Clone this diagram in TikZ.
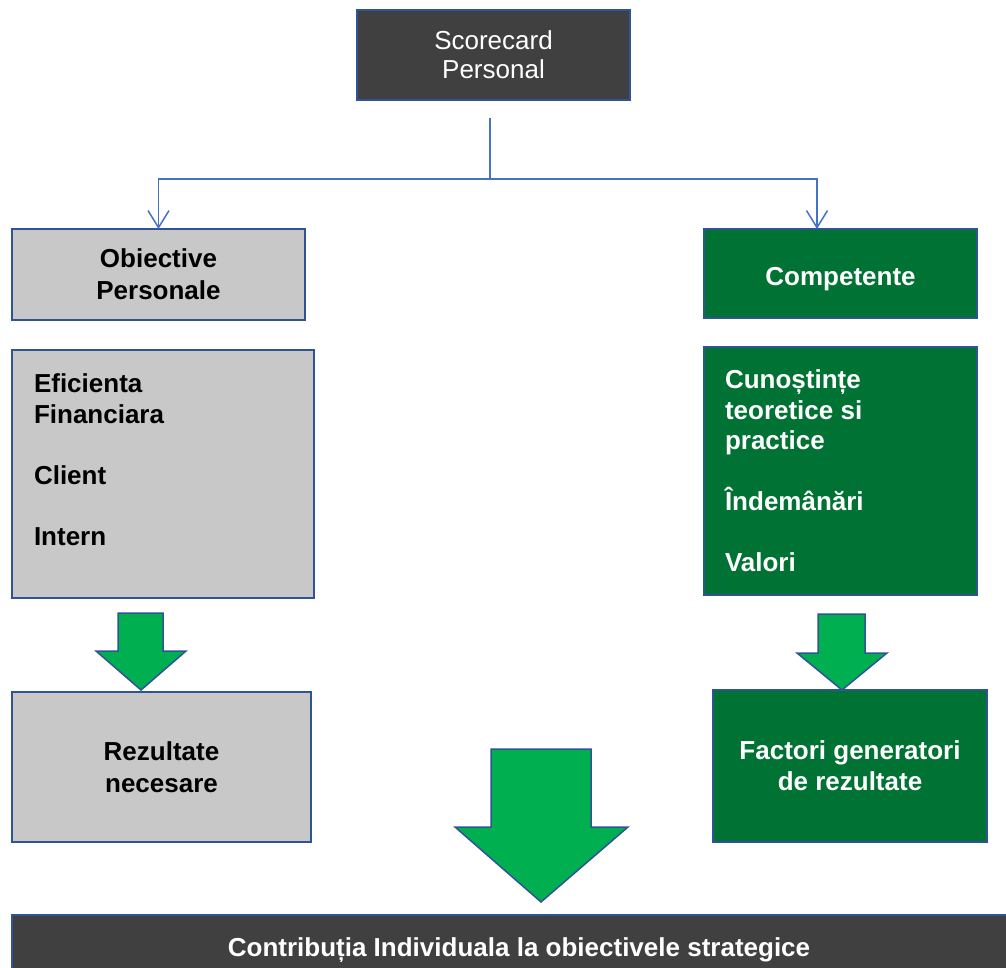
\documentclass[tikz,border=0pt]{standalone}
\usepackage{fontspec}
\setmainfont{Liberation Sans}
\usetikzlibrary{arrows.meta}
\definecolor{darkbox}{RGB}{64,64,64}
\definecolor{greybox}{RGB}{200,200,200}
\definecolor{greenbox}{RGB}{0,114,51}
\definecolor{greenarrow}{RGB}{0,176,80}
\definecolor{edgeblue}{RGB}{47,84,150}
\definecolor{connblue}{RGB}{68,114,196}
\tikzset{
  box/.style={draw=edgeblue, line width=1.5pt, anchor=north west, inner sep=0pt, outer sep=0pt},
  greytext/.style={font=\bfseries\fontsize{26}{32}\selectfont, text=black},
  whitetext/.style={font=\bfseries\fontsize{26}{31}\selectfont, text=white},
  conn/.style={draw=connblue, line width=1.5pt},
  tip/.style={-{Straight Barb[length=17pt,width=21pt,line width=1.5pt]}},
  blockarrow/.style={fill=greenarrow, draw=edgeblue, line width=1.5pt, line join=miter}
}
\begin{document}
\begin{tikzpicture}[x=1pt,y=-1pt]
\useasboundingbox (0,0) rectangle (1006,968);
% top box
\node[box, fill=darkbox, minimum width=273pt, minimum height=90pt, text=white, align=center,
  font=\fontsize{26}{29}\selectfont] (top) at (357,10) {Scorecard\\Personal};
% left column
\node[box, fill=greybox, minimum width=293pt, minimum height=91pt, greytext, align=center] (obj) at (12,229) {Obiective\\Personale};
\node[box, fill=greybox, greytext, inner xsep=22pt, inner ysep=24pt] (list) at (12,350)
  {\parbox[c][200pt][t]{258pt}{\fontsize{26}{30.5}\selectfont Eficienta\\Financiara\\[30.5pt]Client\\[30.5pt]Intern}};
\node[box, fill=greybox, minimum width=299pt, minimum height=150pt, greytext, align=center] (rez) at (12,692) {Rezultate\\necesare};
% right column
\node[box, fill=greenbox, minimum width=273pt, minimum height=89pt, whitetext, align=center, text depth=0pt, text height=23pt] (comp) at (704,229) {Competente};
\node[box, fill=greenbox, whitetext, inner xsep=21pt, inner ysep=23pt] (know) at (704,347)
  {\parbox[c][202pt][t]{231pt}{\fontsize{26}{30.5}\selectfont Cunoștințe\\teoretice si\\practice\\[30.5pt]Îndemânări\\[30.5pt]Valori}};
\node[box, fill=greenbox, minimum width=274pt, minimum height=152pt, whitetext, align=center] (fac) at (713,690) {Factori generatori\\de rezultate};
% bottom box
\node[box, fill=darkbox, minimum width=1010pt, minimum height=60pt] (bot) at (12,915) {};
\node[whitetext, anchor=base] (bottxt) at (519,956) {Contribuția Individuala la obiectivele strategice};
% connectors
\coordinate (s) at (490,118);
\coordinate (j) at (490,179);
\coordinate (cr) at (817,229);
\draw[conn] (s) -- (j);
\draw[conn, tip] (j) -| (obj.north);
\draw[conn, tip] (j) -| (cr);
% block arrows
\draw[blockarrow] (118,613) -- (163,613) -- (163,651) -- (186,651) -- (141,690) -- (96,651) -- (118,651) -- cycle;
\draw[blockarrow] (818,614) -- (865,614) -- (865,653) -- (887,653) -- (842,690) -- (797,653) -- (818,653) -- cycle;
\draw[blockarrow] (491,749) -- (591,749) -- (591,827) -- (628,827) -- (541,902) -- (455,827) -- (491,827) -- cycle;
\end{tikzpicture}
\end{document}
